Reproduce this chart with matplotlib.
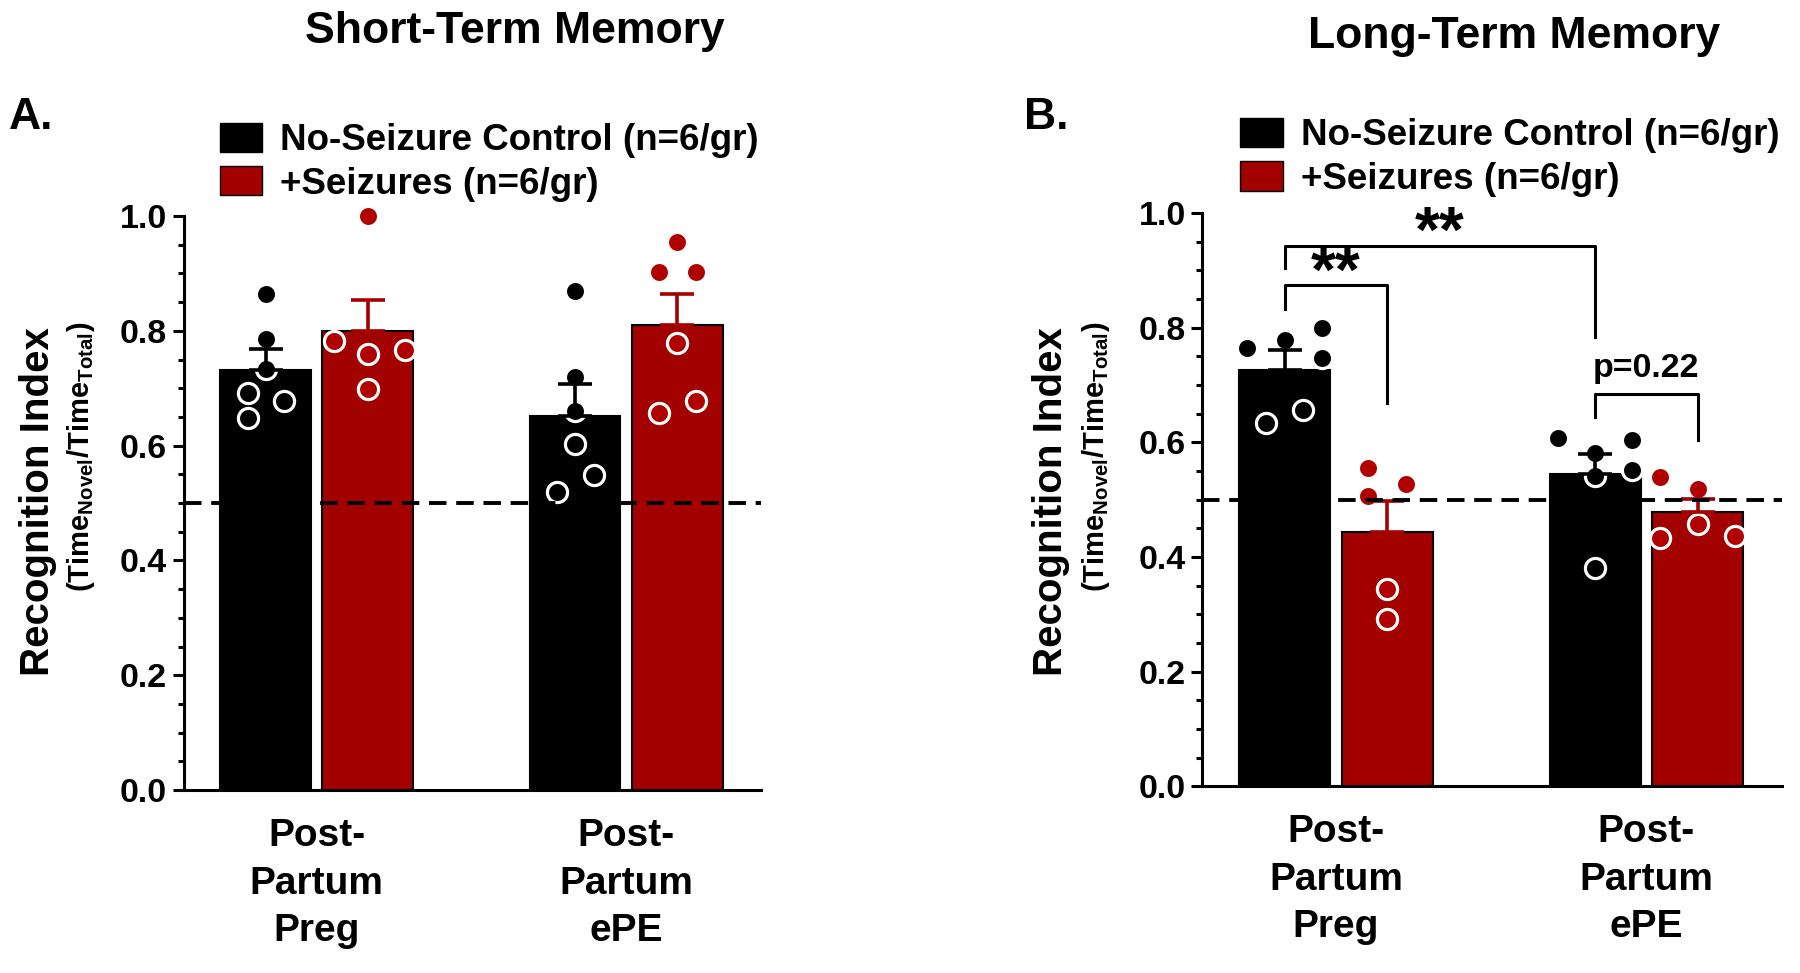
import matplotlib
matplotlib.use("Agg")
import matplotlib.pyplot as plt
from matplotlib import font_manager
from matplotlib.patches import Patch
from matplotlib.ticker import MultipleLocator, FormatStrFormatter
import numpy as np

# ---- data ----
groups = ["Post-\nPartum\nPreg", "Post-\nPartum\nePE"]
legend_labels = ["No-Seizure Control (n=6/gr)", "+Seizures (n=6/gr)"]

# short-term memory
stm_ctrl_mean = [0.732, 0.652]
stm_ctrl_sem = [0.036, 0.055]
stm_ctrl_pts = [[0.865, 0.786, 0.733, 0.692, 0.678, 0.648],
                [0.869, 0.719, 0.660, 0.602, 0.548, 0.520]]
stm_seiz_mean = [0.800, 0.811]
stm_seiz_sem = [0.053, 0.054]
stm_seiz_pts = [[1.000, 0.783, 0.767, 0.760, 0.698],
                [0.954, 0.902, 0.902, 0.779, 0.677, 0.657]]

# long-term memory
ltm_ctrl_mean = [0.727, 0.544]
ltm_ctrl_sem = [0.034, 0.035]
ltm_ctrl_pts = [[0.765, 0.779, 0.800, 0.748, 0.633, 0.656],
                [0.607, 0.604, 0.582, 0.542, 0.551, 0.380]]
ltm_seiz_mean = [0.443, 0.478]
ltm_seiz_sem = [0.054, 0.023]
ltm_seiz_pts = [[0.555, 0.527, 0.506, 0.344, 0.291],
                [0.539, 0.519, 0.433, 0.458, 0.437]]

chance_level = 0.5

# horizontal scatter of the dots inside each bar (x units)
stm_ctrl_jit = [[0, 0, 0, -0.057, 0.06, -0.057], [0, 0, 0, 0, 0.06, -0.06]]
stm_seiz_jit = [[0, -0.11, 0.12, 0, 0], [0, -0.06, 0.06, 0, 0.06, -0.06]]
ltm_ctrl_jit = [[-0.12, 0, 0.12, 0.12, -0.06, 0.06], [-0.12, 0.12, 0, 0, 0.12, 0]]
ltm_seiz_jit = [[-0.062, 0.062, -0.062, 0, 0], [-0.12, 0, -0.12, 0, 0.12]]

# ---- style ----
names = {f.name for f in font_manager.fontManager.ttflist}
FONT = "Liberation Sans Narrow" if "Liberation Sans Narrow" in names else "Liberation Sans"
plt.rcParams["font.family"] = [FONT, "DejaVu Sans"]
plt.rcParams["font.weight"] = "bold"
plt.rcParams["mathtext.fontset"] = "custom"
plt.rcParams["mathtext.rm"] = f"{FONT}:bold"
plt.rcParams["mathtext.bf"] = f"{FONT}:bold"

BLACK = "#000000"
RED = "#a30000"
DOT_RED = "#b00000"
BW = 0.293
OFF = 0.165


def draw_panel(ax, c_mean, c_sem, c_pts, c_jit, s_mean, s_sem, s_pts, s_jit):
    x = np.arange(len(groups))
    for sign, mean, sem, pts, jit, col, dcol in [
        (-1, c_mean, c_sem, c_pts, c_jit, BLACK, BLACK),
        (1, s_mean, s_sem, s_pts, s_jit, RED, DOT_RED),
    ]:
        xc = x + sign * OFF
        ax.bar(xc, mean, width=BW, color=col, edgecolor="black", linewidth=1.5, zorder=2)
        for i in range(len(groups)):
            ax.scatter(xc[i] + np.array(jit[i]), pts[i], s=210, color=dcol,
                       edgecolors="white", linewidths=2.3, zorder=4, clip_on=False)
        # error bar (SEM, upward only) drawn on top of the dots
        ax.errorbar(xc, mean, yerr=[np.zeros(len(sem)), sem], fmt="none", ecolor=col,
                    elinewidth=2.6, capsize=12, capthick=2.6, zorder=4.5)
    ax.axhline(chance_level, color="black", linestyle=(0, (4.5, 2.5)), linewidth=2.8, zorder=5)

    ax.set_xlim(-0.43, 1.437)
    ax.set_ylim(0, 1.0)
    ax.set_xticks(x)
    ax.set_xticklabels(groups, fontsize=28, fontweight="bold", linespacing=1.42)
    ax.tick_params(axis="x", length=0, pad=20)
    ax.yaxis.set_major_locator(MultipleLocator(0.2))
    ax.yaxis.set_minor_locator(MultipleLocator(0.05))
    ax.yaxis.set_major_formatter(FormatStrFormatter("%.1f"))
    ax.tick_params(axis="y", which="major", length=8, width=2.2, pad=4, labelsize=24.5)
    ax.tick_params(axis="y", which="minor", length=4.5, width=2.2)
    for s in ["top", "right"]:
        ax.spines[s].set_visible(False)
    for s in ["left", "bottom"]:
        ax.spines[s].set_linewidth(2.2)


fig = plt.figure(figsize=(18, 9.73), dpi=100)
ax_a = fig.add_axes([0.102, 0.188, 0.321, 0.590])
ax_b = fig.add_axes([0.668, 0.192, 0.322, 0.589])

draw_panel(ax_a, stm_ctrl_mean, stm_ctrl_sem, stm_ctrl_pts, stm_ctrl_jit,
           stm_seiz_mean, stm_seiz_sem, stm_seiz_pts, stm_seiz_jit)
draw_panel(ax_b, ltm_ctrl_mean, ltm_ctrl_sem, ltm_ctrl_pts, ltm_ctrl_jit,
           ltm_seiz_mean, ltm_seiz_sem, ltm_seiz_pts, ltm_seiz_jit)

# significance brackets (panel B)
def bracket(ax, x0, x1, y, y0, y1, label, ty, size):
    ax.plot([x0, x0, x1, x1], [y0, y, y, y1], color="black", lw=2.2, clip_on=False, zorder=6)
    ax.text((x0 + x1) / 2, ty, label, ha="center", va="center", fontsize=size,
            fontweight="bold", clip_on=False)

bracket(ax_b, -OFF, 1 - OFF, 0.943, 0.904, 0.783, "**", 0.962, 46)
bracket(ax_b, -OFF, OFF, 0.875, 0.832, 0.669, "**", 0.893, 46)
bracket(ax_b, 1 - OFF, 1 + OFF, 0.685, 0.644, 0.604, "p=0.22", 0.728, 24.5)

# titles, panel letters, y labels, legends
for xt, yt, title, letter, xl, ylx, ysx in [
    (0.286, 0.968, "Short-Term Memory", "A.", 0.005, 0.021, 0.045),
    (0.841, 0.963, "Long-Term Memory", "B.", 0.569, 0.584, 0.609),
]:
    fig.text(xt, yt, title, ha="center", va="center", fontsize=32, fontweight="bold")
    fig.text(xl, 0.879, letter, ha="left", va="center", fontsize=32, fontweight="bold")
    fig.text(ylx, 0.485, "Recognition Index", rotation=90, ha="center", va="center",
             fontsize=29, fontweight="bold")
    fig.text(ysx, 0.53, r"(Time$_{\mathbf{Novel}}$/Time$_{\mathbf{Total}}$)", rotation=90,
             ha="center", va="center", fontsize=21, fontweight="bold")

handles = [Patch(facecolor=BLACK, edgecolor="black"), Patch(facecolor=RED, edgecolor="black")]
for ax, anchor in [(ax_a, (0.122, 0.874)), (ax_b, (0.689, 0.879))]:
    fig.legend(handles, legend_labels, loc="upper left", bbox_to_anchor=anchor, frameon=False,
               handlelength=1.15, handleheight=0.85, handletextpad=0.5,
               labelspacing=0.22, borderpad=0, borderaxespad=0,
               prop={"weight": "bold", "size": 26.5})

fig.savefig("out.png", dpi=100)
